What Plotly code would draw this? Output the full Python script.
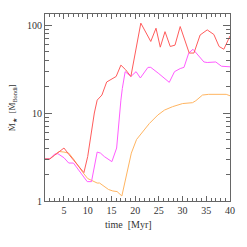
import plotly.graph_objects as go

# Red series
t_red = [1, 2, 3, 4, 5, 6, 7, 8, 9.2, 10, 11, 11.4, 12, 13, 14, 15, 16, 17, 18, 19.1,
         21.2, 23.3, 24.4, 25.3, 26.3, 27.4, 28.4, 29.5, 31.4, 32.4, 33.7, 35.2, 36.6,
         37.7, 38.7, 40]
v_red = [3.0, 3.0, 3.3, 3.65, 4.0, 3.4, 2.9, 2.5, 2.1, 3.2, 7.3, 10, 14, 16, 22.5, 24, 26, 35, 31, 26,
         105, 65, 92, 56, 84, 57, 59, 96, 48, 48, 77, 88, 78,
         57, 53, 75]

# Magenta series
t_mag = [1, 2, 3, 3.7, 5, 6, 7, 8, 9, 9.9, 10.8, 11.2, 12, 12.7, 13.5, 15.1, 16.1, 17, 17.3, 17.9,
         19.1, 20.2, 21.1, 22.7, 23.3, 25, 27.2, 28.3, 29.5, 30.3, 31.3, 32.2, 33.0, 34.5, 35.2,
         37, 38.2, 40]
v_mag = [3.0, 3.0, 3.4, 3.45, 3.1, 2.7, 2.7, 2.3, 1.95, 1.66, 1.66, 2.2, 3.6, 3.5, 3.2, 2.8, 4.0, 14, 19, 29.5,
         26, 29.5, 25, 33, 33, 28, 22.3, 29.5, 32, 33, 48, 53, 47, 38, 37.5,
         38, 34, 33.5]

# Orange series
t_org = [1, 2, 3, 4, 5, 6, 7, 8, 9, 10, 11, 12, 12.5, 14.4, 15.3, 16.2, 17.2, 19.2, 20.3, 21.3,
         23, 24.8, 26.2, 27.9, 30, 32.1, 32.8, 34.2, 35.5, 39.2, 40]
v_org = [3.0, 3.0, 3.35, 3.65, 3.6, 3.5, 3.0, 2.5, 2.1, 1.8, 1.68, 1.6, 1.6, 1.35, 1.3, 1.28, 1.14, 3.5, 5.0, 5.9,
         7.6, 9.5, 10.8, 11.8, 12.8, 13.1, 13.8, 16, 16.3, 16.3, 15.7]

x_ticks = [5, 10, 15, 20, 25, 30, 35, 40]
y_ticks = [1, 10, 100]

FONT = "Liberation Serif, DejaVu Serif, serif"
AX = "#666666"

fig = go.Figure()
for t, v, c in [(t_org, v_org, "#ffb561"), (t_mag, v_mag, "#ff5cff"), (t_red, v_red, "#ff5c5c")]:
    fig.add_trace(go.Scatter(x=t, y=v, mode="lines", line=dict(color=c, width=1), showlegend=False))

fig.update_layout(
    width=247, height=247,
    margin=dict(l=45, r=13, t=14, b=46),
    paper_bgcolor="white", plot_bgcolor="white",
    font=dict(family=FONT, size=10, color="#333333"),
    xaxis=dict(range=[1, 40], tickvals=x_ticks, ticks="inside", ticklen=5, tickcolor=AX,
               showline=True, linecolor=AX, linewidth=1, mirror="ticks", showgrid=False,
               zeroline=False,
               minor=dict(dtick=1, tick0=0, ticks="inside", ticklen=3, tickcolor=AX, showgrid=False)),
    yaxis=dict(type="log", range=[0, 2.125], tickvals=y_ticks, ticktext=["1", "10", "100"],
               ticks="inside", ticklen=7, tickcolor=AX,
               showline=True, linecolor=AX, linewidth=1, mirror="ticks", showgrid=False,
               zeroline=False,
               minor=dict(tickvals=[2, 3, 4, 5, 6, 7, 8, 9, 20, 30, 40, 50, 60, 70, 80, 90],
                          ticks="inside", ticklen=4, tickcolor=AX, showgrid=False)),
    annotations=[
        dict(text="time  [Myr]", x=0.45, y=-0.085, xref="paper", yref="paper",
             xanchor="center", yanchor="top", showarrow=False, font=dict(size=10)),
        dict(text="Ṁ<sub>★</sub>  [Ṁ<sub>Bondi</sub>]", x=-0.175, y=0.5, xref="paper", yref="paper",
             xanchor="center", yanchor="middle", textangle=-90, showarrow=False, font=dict(size=9)),
    ],
)

fig.write_html("out.html", config={"displayModeBar": False},
               post_script="document.body.style.margin='0';document.body.style.overflow='hidden';")
